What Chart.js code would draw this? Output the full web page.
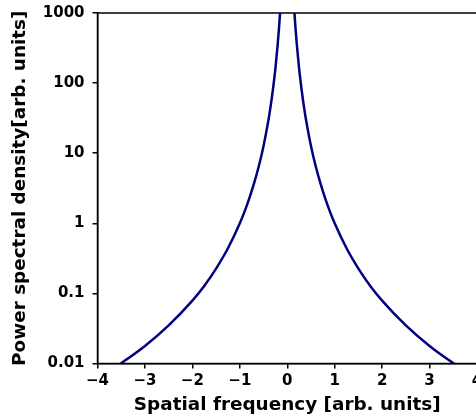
<!DOCTYPE html>
<html>
<head>
<meta charset="utf-8">
<script src="https://cdn.jsdelivr.net/npm/chart.js@4/dist/chart.umd.min.js"></script>
<style>
html,body{margin:0;padding:0;overflow:hidden;background:#fff;width:476px;height:417px;}
canvas{display:block;}
</style>
</head>
<body>
<canvas id="c" width="482" height="417"></canvas>
<script>
// Spatial frequency (x) and power spectral density (y)
const freqRight = [0.15, 0.17, 0.2, 0.25, 0.3, 0.35, 0.4, 0.5, 0.6, 0.7, 0.8, 0.9, 1.0, 1.25, 1.5, 1.75, 2.0, 2.5, 3.0, 3.5, 3.6];
const psdRight  = [1050, 660, 366, 161, 83, 47, 28.8, 12.7, 6.5, 3.7, 2.27, 1.47, 1.0, 0.44, 0.226, 0.128, 0.079, 0.035, 0.0178, 0.0101, 0.0091];
const freqLeft = [-3.6, -3.5, -3.0, -2.5, -2.0, -1.75, -1.5, -1.25, -1.0, -0.9, -0.8, -0.7, -0.6, -0.5, -0.4, -0.35, -0.3, -0.25, -0.2, -0.17, -0.15];
const psdLeft  = [0.0091, 0.0101, 0.0178, 0.035, 0.079, 0.128, 0.226, 0.44, 1.0, 1.47, 2.27, 3.7, 6.5, 12.7, 28.8, 47, 83, 161, 366, 660, 1050];
const xTicks = [-4, -3, -2, -1, 0, 1, 2, 3, 4];
const yTicks = [0.01, 0.1, 1, 10, 100, 1000];
const yTickLabels = ['0.01', '0.1', '1', '10', '100', '1000'];

const pts = (xs, ys) => xs.map((x, i) => ({x: x, y: ys[i]}));

const spines = {
  id: 'spines',
  afterDraw(chart) {
    const a = chart.chartArea, ctx = chart.ctx;
    ctx.save();
    ctx.strokeStyle = '#000';
    ctx.lineWidth = 1.5;
    ctx.strokeRect(a.left, a.top, a.right - a.left, a.bottom - a.top);
    ctx.restore();
  }
};

const font = {family: 'DejaVu Sans', weight: 'bold', size: 15};
const titleFont = {family: 'DejaVu Sans', weight: 'bold', size: 18.4};

new Chart(document.getElementById('c'), {
  type: 'line',
  data: {
    datasets: [
      {data: pts(freqLeft, psdLeft), borderColor: '#000080', borderWidth: 2.5, pointRadius: 0, cubicInterpolationMode: 'monotone', fill: false},
      {data: pts(freqRight, psdRight), borderColor: '#000080', borderWidth: 2.5, pointRadius: 0, cubicInterpolationMode: 'monotone', fill: false}
    ]
  },
  options: {
    responsive: false,
    animation: false,
    layout: {padding: {left: 0, top: 13, right: 5, bottom: 0}},
    plugins: {legend: {display: false}, tooltip: {enabled: false}},
    scales: {
      x: {
        type: 'linear', min: -4, max: 4,
        afterBuildTicks: s => { s.ticks = xTicks.map(v => ({value: v})); },
        afterFit: s => { s.height = 53.5; s.paddingLeft = 0; s.paddingRight = 0; },
        ticks: {color: '#000', font: font, padding: 4, maxRotation: 0, autoSkip: false,
          callback: v => (v < 0 ? '\u2212' + Math.abs(v) : String(v))},
        grid: {display: true, drawOnChartArea: false, drawTicks: true, tickLength: 5, color: '#000', lineWidth: 1.5},
        border: {display: true, color: '#000', width: 1.5},
        title: {display: true, text: 'Spatial frequency [arb. units]', color: '#000',
          font: titleFont, padding: {top: 0, bottom: 1}}
      },
      y: {
        type: 'logarithmic', min: 0.01, max: 1000,
        afterBuildTicks: s => { s.ticks = yTicks.map(v => ({value: v})); },
        afterFit: s => { s.width = 97.5; s.paddingTop = 0; s.paddingBottom = 0; },
        ticks: {color: '#000', font: font, padding: 8, autoSkip: false,
          callback: (v) => { const i = yTicks.findIndex(t => Math.abs(t - v) / t < 1e-6); return i >= 0 ? yTickLabels[i] : ''; }},
        grid: {display: true, drawOnChartArea: false, drawTicks: true, tickLength: 5, color: '#000', lineWidth: 1.5},
        border: {display: true, color: '#000', width: 1.5},
        title: {display: true, text: 'Power spectral density[arb. units]', color: '#000',
          font: titleFont, padding: {top: 9, bottom: 0}}
      }
    }
  },
  plugins: [spines]
});
</script>
</body>
</html>
